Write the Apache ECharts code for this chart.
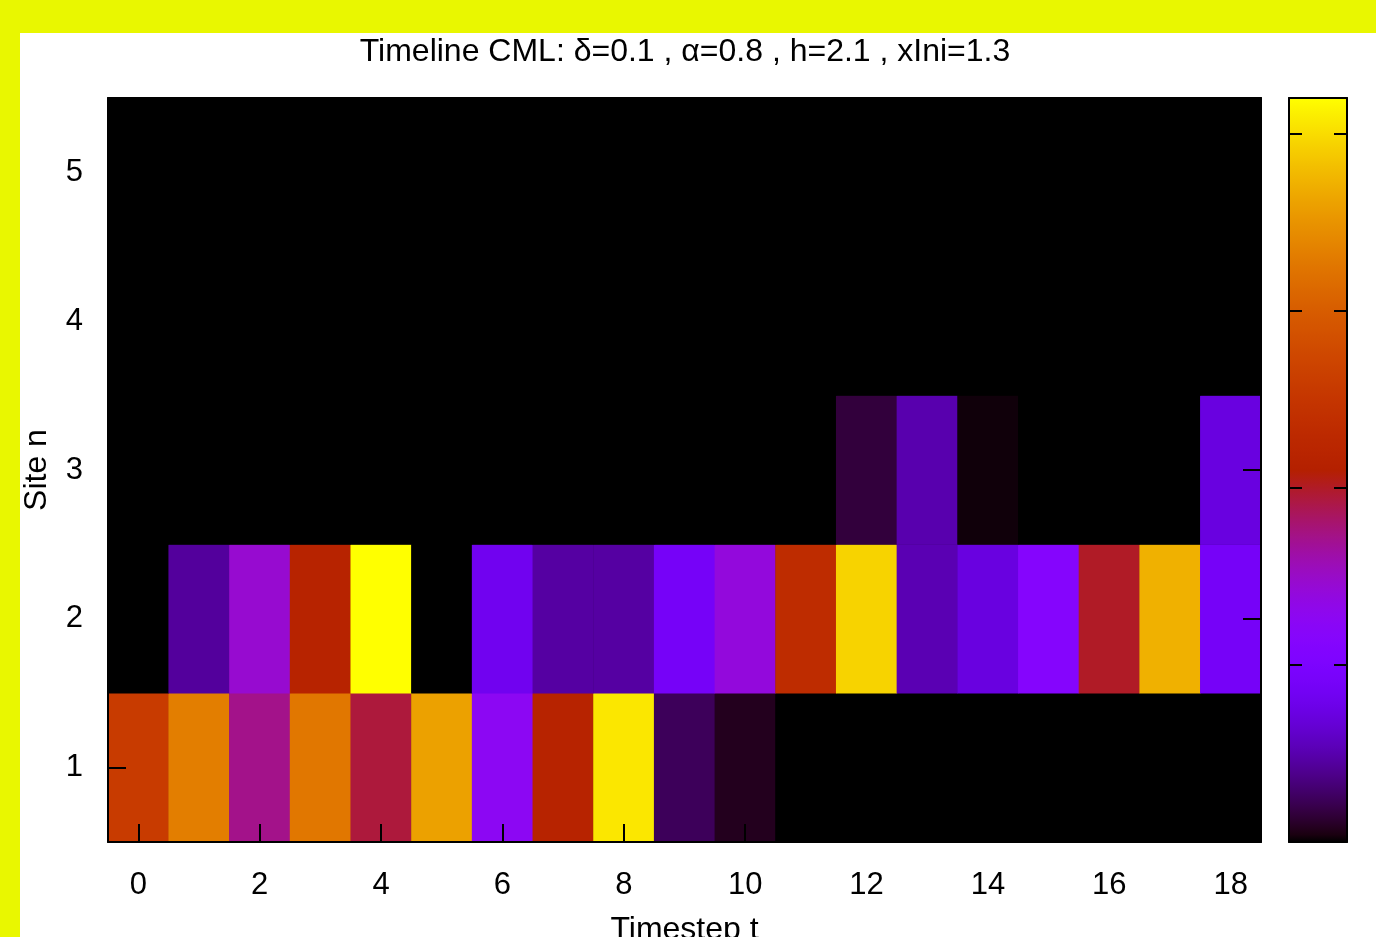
<!DOCTYPE html>
<html><head><meta charset="utf-8">
<script src="https://cdn.jsdelivr.net/npm/echarts@6/dist/echarts.min.js"></script>
<style>html,body{margin:0;padding:0;background:#e9f700;overflow:hidden;} #c{width:1376px;height:937px;}</style>
</head><body><div id="c"></div>
<script>
// ---- data ----
const timesteps = ['0','1','2','3','4','5','6','7','8','9','10','11','12','13','14','15','16','17','18'];
const sites = ['1','2','3','4','5'];
const site1 = [1.29, 1.66, 0.86, 1.63, 0.97, 1.80, 0.63, 1.08, 2.03, 0.12, 0.04, 0, 0, 0, 0, 0, 0, 0, 0];
const site2 = [0, 0.22, 0.73, 1.08, 2.10, 0, 0.41, 0.23, 0.23, 0.45, 0.70, 1.17, 1.97, 0.26, 0.36, 0.57, 1.00, 1.86, 0.45];
const site3 = [0, 0, 0, 0, 0, 0, 0, 0, 0, 0, 0, 0, 0.08, 0.25, 0.013, 0, 0, 0, 0.36];
const site4 = [0, 0, 0, 0, 0, 0, 0, 0, 0, 0, 0, 0, 0, 0, 0, 0, 0, 0, 0];
const site5 = [0, 0, 0, 0, 0, 0, 0, 0, 0, 0, 0, 0, 0, 0, 0, 0, 0, 0, 0];
const cbMin = 0, cbMax = 2.1, cbStep = 0.5;
const titleText = 'Timeline CML: \u03b4=0.1 , \u03b1=0.8 , h=2.1 , xIni=1.3';

// ---- palette (gnuplot rgbformulae 7,5,15) ----
function gp(x){
  const r = Math.sqrt(x), g = x*x*x, b = Math.max(0, Math.sin(2*Math.PI*x));
  const h = v => Math.round(Math.min(1,Math.max(0,v))*255).toString(16).padStart(2,'0');
  return '#'+h(r)+h(g)+h(b);
}
const palette = [];
for (let i = 0; i <= 100; i++) palette.push(gp(i/100));

const rows = [site1, site2, site3, site4, site5];
const cells = [];
rows.forEach((row, si) => row.forEach((v, ti) => cells.push([ti, si, v])));

const FONT = 'Liberation Sans';
const black = '#000';
const chart = echarts.init(document.getElementById('c'), null, {renderer:'canvas'});
const G = {left:108, top:98, width:1153, height:744};
const CB = {left:1289, top:98, width:58, height:744};
const tickStyle = {show:true, inside:true, length:18, lineStyle:{color:black, width:2}};
const lineStyle = {show:true, onZero:false, lineStyle:{color:black, width:2}};
chart.setOption({
  backgroundColor:'#e9f700',
  animation:false,
  graphic:[{type:'rect', z:-10, silent:true, shape:{x:20, y:33, width:1400, height:1000}, style:{fill:'#fff'}}],
  title:{text:titleText, left:685, textAlign:'center', top:36, padding:0,
    textStyle:{fontFamily:FONT, fontSize:32, fontWeight:'normal', color:black}},
  grid:[
    Object.assign({show:true, backgroundColor:black, borderWidth:0, outerBoundsMode:'none', containLabel:false}, G),
    Object.assign({show:false, outerBoundsMode:'none', containLabel:false}, CB)
  ],
  xAxis:[
    {type:'category', gridIndex:0, data:timesteps, position:'bottom', boundaryGap:true, z:10,
     axisLine:lineStyle, axisTick:Object.assign({alignWithLabel:true, interval:1}, tickStyle),
     axisLabel:{interval:1, margin:28, fontFamily:FONT, fontSize:31, color:black},
     splitLine:{show:false}, name:'Timestep t', nameLocation:'middle', nameGap:72,
     nameTextStyle:{fontFamily:FONT, fontSize:32, color:black}},
    {type:'category', gridIndex:0, data:timesteps, position:'top', boundaryGap:true, z:10,
     axisLine:lineStyle, axisTick:Object.assign({alignWithLabel:true, interval:1}, tickStyle),
     axisLabel:{show:false}, splitLine:{show:false}},
    {type:'value', gridIndex:1, min:0, max:1, position:'bottom', z:10, axisLine:lineStyle,
     axisTick:{show:false}, axisLabel:{show:false}, splitLine:{show:false}},
    {type:'value', gridIndex:1, min:0, max:1, position:'top', z:10, axisLine:lineStyle,
     axisTick:{show:false}, axisLabel:{show:false}, splitLine:{show:false}}
  ],
  yAxis:[
    {type:'category', gridIndex:0, data:sites, position:'left', boundaryGap:true, z:10,
     axisLine:lineStyle, axisTick:Object.assign({alignWithLabel:true}, tickStyle),
     axisLabel:{margin:25, fontFamily:FONT, fontSize:31, color:black, padding:[4,0,0,0]},
     splitLine:{show:false}, name:'Site n', nameLocation:'middle', nameGap:55, nameRotate:90,
     nameTextStyle:{fontFamily:FONT, fontSize:32, color:black}},
    {type:'category', gridIndex:0, data:sites, position:'right', boundaryGap:true, z:10,
     axisLine:lineStyle, axisTick:Object.assign({alignWithLabel:true}, tickStyle),
     axisLabel:{show:false}, splitLine:{show:false}},
    {type:'value', gridIndex:1, min:cbMin, max:cbMax, interval:cbStep, position:'left', z:10,
     axisLine:lineStyle, axisTick:{show:true, inside:true, length:13, lineStyle:{color:black, width:2}},
     axisLabel:{show:false}, splitLine:{show:false}},
    {type:'value', gridIndex:1, min:cbMin, max:cbMax, interval:cbStep, position:'right', z:10,
     axisLine:lineStyle, axisTick:{show:true, inside:true, length:13, lineStyle:{color:black, width:2}},
     axisLabel:{show:false}, splitLine:{show:false}}
  ],
  visualMap:{type:'continuous', min:cbMin, max:cbMax, seriesIndex:0, orient:'vertical',
    left:CB.left, top:CB.top, itemWidth:CB.width, itemHeight:CB.height, padding:0,
    calculable:false, hoverLink:false, showLabel:false, text:null, z:4,
    inRange:{color:palette}},
  series:[{type:'heatmap', xAxisIndex:0, yAxisIndex:0, data:cells, z:2,
    itemStyle:{borderWidth:0}, emphasis:{disabled:true}}]
});
</script></body></html>
